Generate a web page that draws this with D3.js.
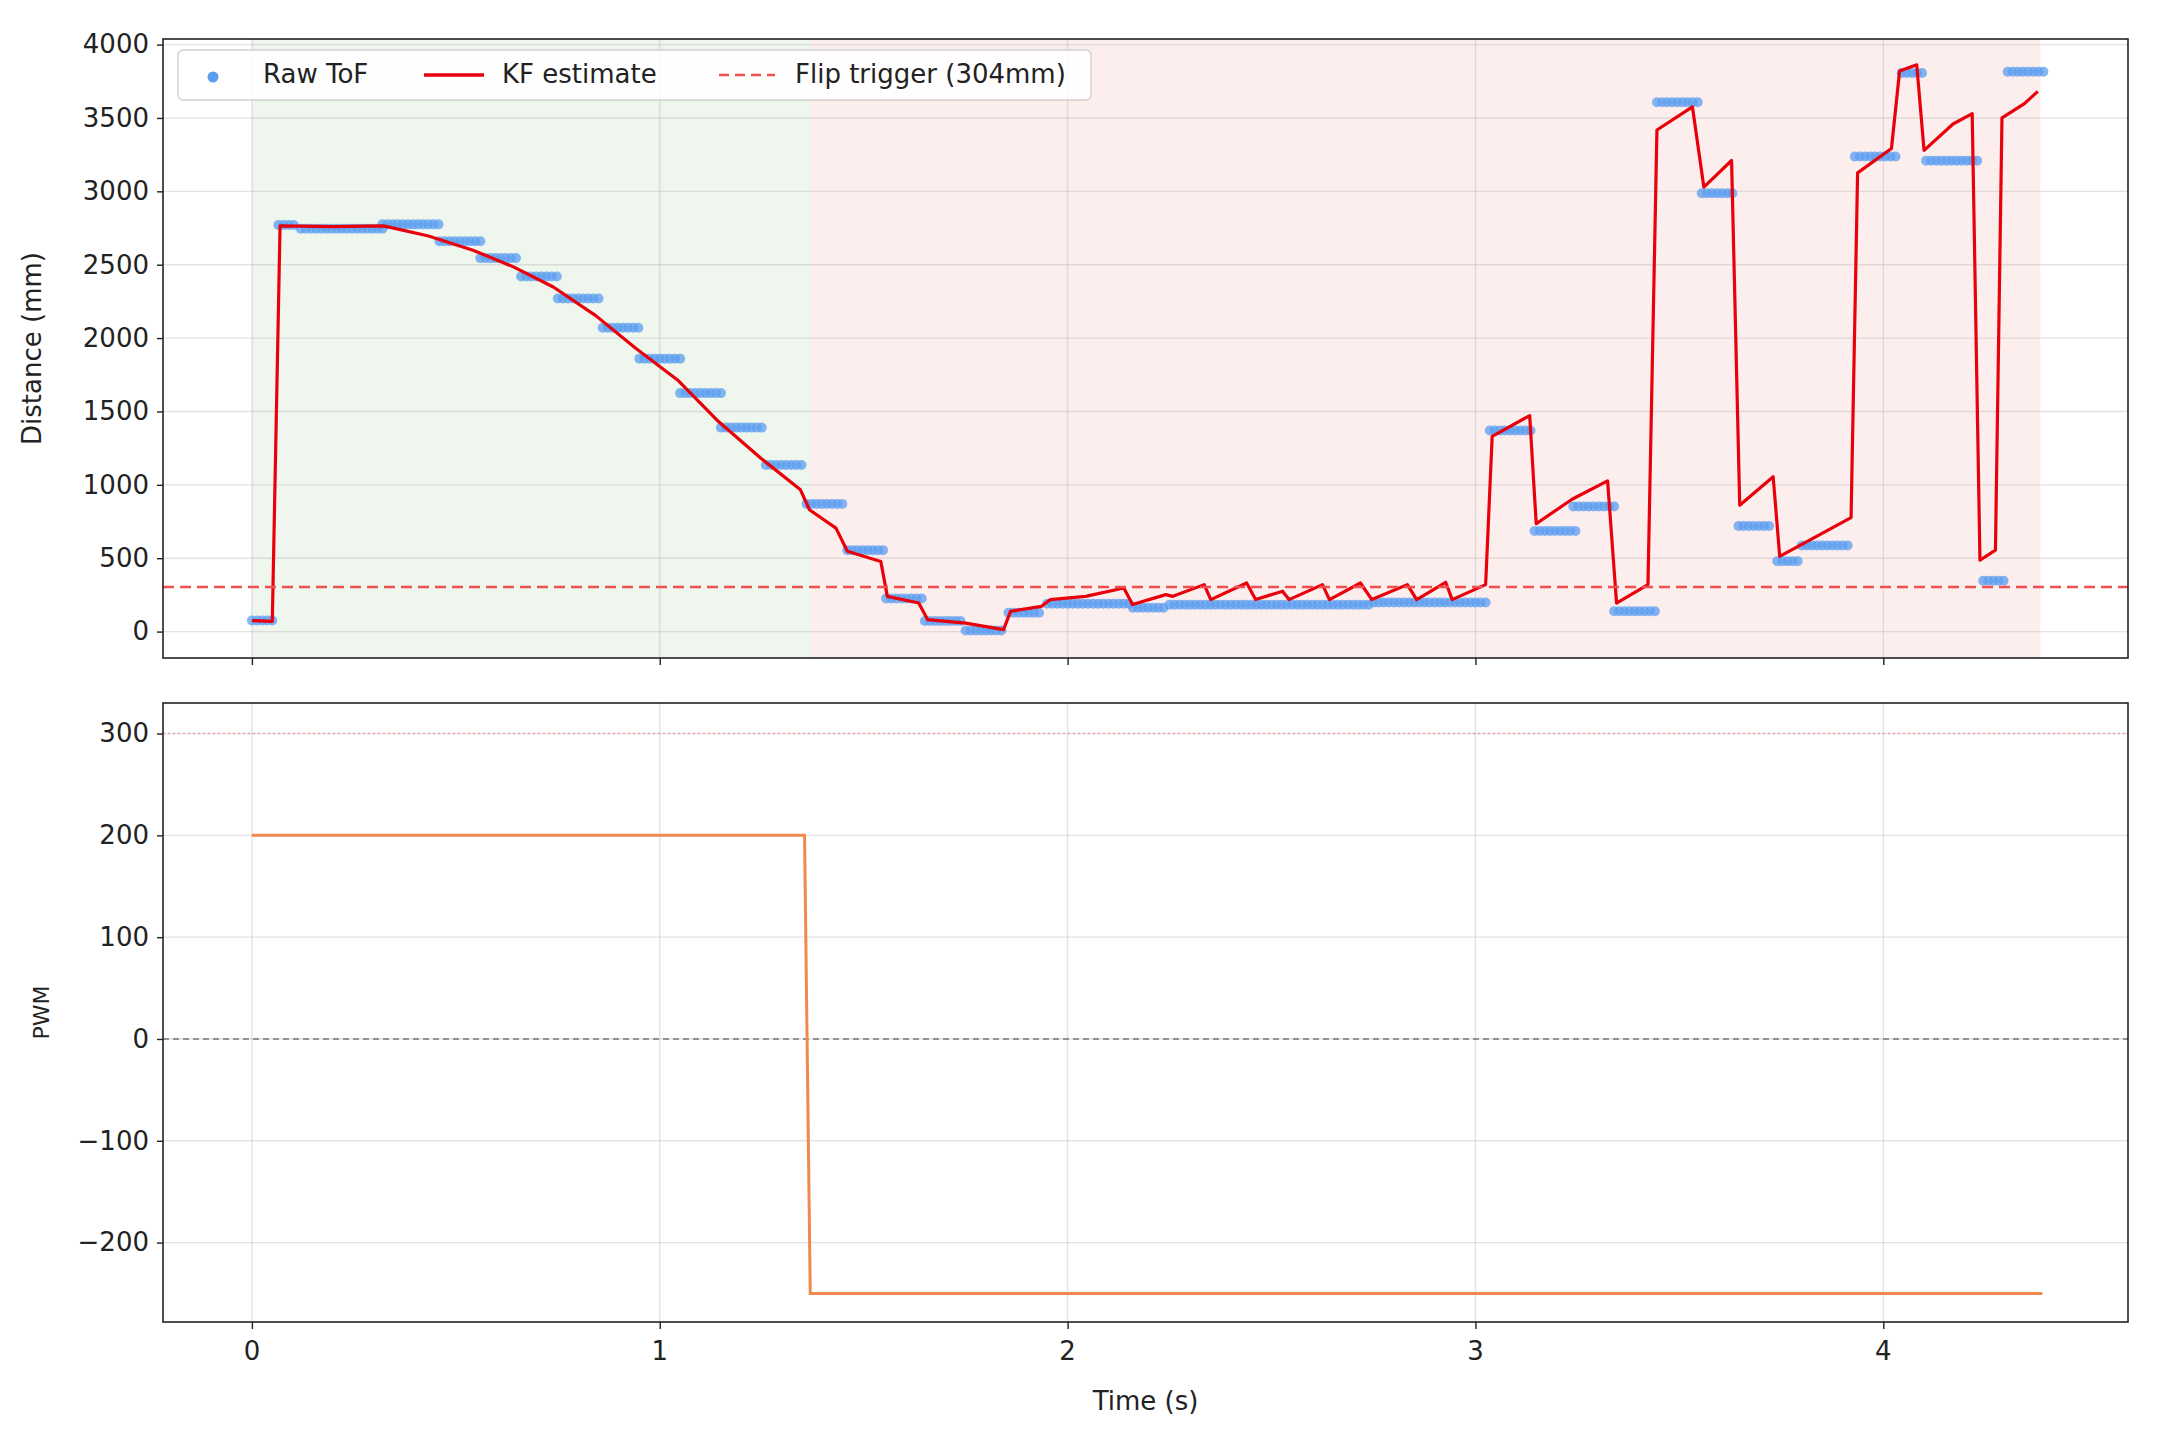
<!DOCTYPE html>
<html><head><meta charset="utf-8">
<script src="https://cdn.jsdelivr.net/npm/d3@7"></script>
<style>body{margin:0;background:#fff}svg{font-family:"DejaVu Sans",sans-serif}</style>
</head><body><svg id="c" width="2178" height="1448"></svg>
<script>
// Raw ToF plateaus: [tStart, tEnd, distance mm]
const rawSegments = [
 [0.0,0.06,75],[0.065,0.11,2770],[0.12,0.32,2745],[0.32,0.46,2775],[0.46,0.56,2660],
 [0.56,0.65,2545],[0.66,0.75,2420],[0.75,0.85,2270],[0.86,0.95,2070],[0.95,1.05,1860],
 [1.05,1.15,1625],[1.15,1.26,1390],[1.26,1.35,1135],[1.36,1.45,870],[1.46,1.55,555],
 [1.555,1.645,225],[1.65,1.74,72],[1.75,1.845,8],[1.855,1.94,128],[1.95,2.15,190],
 [2.16,2.24,162],[2.25,2.74,183],[2.75,3.03,198],[3.035,3.14,1370],[3.145,3.25,686],
 [3.24,3.34,853],[3.34,3.44,139],[3.445,3.55,3607],[3.555,3.64,2987],[3.645,3.73,720],
 [3.74,3.79,480],[3.8,3.92,586],[3.93,4.04,3237],[4.045,4.1,3806],[4.105,4.24,3209],
 [4.245,4.3,347],[4.305,4.4,3815]
];
const rawStep = 0.0125;
// Kalman filter estimate
const kfT = [0.0,0.05,0.069,0.2,0.323,0.433,0.542,0.64,0.739,0.843,0.941,1.046,1.144,1.248,1.345,1.367,1.432,1.46,1.542,1.558,1.635,1.657,1.75,1.843,1.86,1.936,1.958,2.044,2.138,2.159,2.241,2.258,2.335,2.351,2.439,2.461,2.527,2.543,2.625,2.642,2.718,2.746,2.833,2.856,2.927,2.943,3.025,3.041,3.133,3.149,3.237,3.324,3.346,3.423,3.445,3.532,3.56,3.628,3.648,3.73,3.746,3.921,3.937,4.02,4.04,4.082,4.1,4.171,4.218,4.237,4.275,4.291,4.346,4.379];
const kfV = [75,69,2765,2760,2765,2696,2599,2487,2348,2153,1931,1709,1431,1181,966,830,705,547,478,240,195,81,58,13,138,172,218,240,297,184,252,240,320,218,331,218,275,218,320,218,331,218,320,218,336,218,320,1330,1472,735,902,1027,194,320,3418,3576,3029,3210,861,1055,513,777,3126,3292,3820,3862,3279,3459,3529,486,555,3501,3598,3681];
const flipTrigger = 304;
const phases = [[0,1.369,"#eef6ee"],[1.369,4.385,"#fdeeee"]];
const pwmT = [0,1.355,1.369,4.39];
const pwmV = [200,200,-250,-250];
const xTicks = [0,1,2,3,4];
const yTicksTop = [0,500,1000,1500,2000,2500,3000,3500,4000];
const yTicksBot = [-200,-100,0,100,200,300];

const svg = d3.select("#c");
const L=163, R=2128, T1=39, B1=658, T2=703, B2=1322;
const x = d3.scaleLinear().domain([-0.218,4.6]).range([L,R]);
const y1 = d3.scaleLinear().domain([-180,4038]).range([B1,T1]);
const y2 = d3.scaleLinear().domain([-278,330]).range([B2,T2]);
const fs = 26;

function frame(y, T, B, ticks, fmt){
  svg.append("g").selectAll("line").data(xTicks).join("line")
    .attr("x1",d=>x(d)).attr("x2",d=>x(d)).attr("y1",T).attr("y2",B)
    .attr("stroke","#b0b0b0").attr("stroke-opacity",0.35).attr("stroke-width",1.4);
  svg.append("g").selectAll("line").data(ticks).join("line")
    .attr("x1",L).attr("x2",R).attr("y1",d=>y(d)).attr("y2",d=>y(d))
    .attr("stroke","#b0b0b0").attr("stroke-opacity",0.35).attr("stroke-width",1.4);
  const ay = svg.append("g").attr("transform",`translate(${L},0)`)
    .call(d3.axisLeft(y).tickValues(ticks).tickSize(6).tickPadding(8).tickFormat(fmt));
  ay.select(".domain").remove();
  ay.selectAll("text").attr("font-size",fs).attr("fill","#222").attr("font-family","DejaVu Sans");
  ay.selectAll("line").attr("stroke","#222").attr("stroke-width",1.4);
  const ax = svg.append("g").attr("transform",`translate(0,${B})`)
    .call(d3.axisBottom(x).tickValues(xTicks).tickSize(7).tickFormat(""));
  ax.select(".domain").remove();
  ax.selectAll("line").attr("stroke","#222").attr("stroke-width",1.4);
  return ax;
}
function border(T,B){
  svg.append("rect").attr("x",L).attr("y",T).attr("width",R-L).attr("height",B-T)
    .attr("fill","none").attr("stroke","#222").attr("stroke-width",1.6);
}
// ---- top panel
svg.append("g").selectAll("rect").data(phases).join("rect")
  .attr("x",d=>x(d[0])).attr("width",d=>x(d[1])-x(d[0]))
  .attr("y",T1).attr("height",B1-T1).attr("fill",d=>d[2]);
frame(y1,T1,B1,yTicksTop,d3.format("d"));
const raw=[];
rawSegments.forEach(([a,b,v])=>{for(let t=a;t<=b+1e-9;t+=rawStep) raw.push([t,v]);});
svg.append("g").selectAll("circle").data(raw).join("circle")
  .attr("cx",d=>x(d[0])).attr("cy",d=>y1(d[1])).attr("r",5)
  .attr("fill","#5b9ef0").attr("fill-opacity",0.75);
svg.append("path").datum(kfT.map((t,i)=>[t,kfV[i]]))
  .attr("d",d3.line().x(d=>x(d[0])).y(d=>y1(d[1])))
  .attr("fill","none").attr("stroke","#e8000b").attr("stroke-width",3.2).attr("stroke-linejoin","round");
svg.append("line").attr("x1",L).attr("x2",R).attr("y1",y1(flipTrigger)).attr("y2",y1(flipTrigger))
  .attr("stroke","#f05050").attr("stroke-width",2.6).attr("stroke-dasharray","11,6");
border(T1,B1);
svg.append("text").attr("transform",`translate(41,${(T1+B1)/2}) rotate(-90)`)
  .attr("text-anchor","middle").attr("font-size",fs).attr("fill","#222").text("Distance (mm)");
// legend
const lg = svg.append("g");
lg.append("rect").attr("x",178).attr("y",50).attr("width",913).attr("height",50).attr("rx",5)
  .attr("fill","#fff").attr("fill-opacity",0.85).attr("stroke","#d0d0d0").attr("stroke-width",1.4);
lg.append("circle").attr("cx",213).attr("cy",77).attr("r",5.5).attr("fill","#5b9ef0");
lg.append("text").attr("x",263).attr("y",83).attr("font-size",fs).attr("fill","#222").text("Raw ToF");
lg.append("line").attr("x1",424).attr("x2",484).attr("y1",75).attr("y2",75).attr("stroke","#e8000b").attr("stroke-width",3.5);
lg.append("text").attr("x",502).attr("y",83).attr("font-size",fs).attr("fill","#222").text("KF estimate");
lg.append("line").attr("x1",719).attr("x2",775).attr("y1",75).attr("y2",75).attr("stroke","#f05050").attr("stroke-width",2.6).attr("stroke-dasharray","10,6");
lg.append("text").attr("x",795).attr("y",83).attr("font-size",fs).attr("fill","#222").text("Flip trigger (304mm)");
// ---- bottom panel
const ax2 = frame(y2,T2,B2,yTicksBot,d=>d<0?"\u2212"+Math.abs(d):String(d));
svg.append("g").selectAll("text").data(xTicks).join("text")
  .attr("x",d=>x(d)).attr("y",B2+38).attr("text-anchor","middle").attr("font-size",fs).attr("fill","#222").text(d=>d);
svg.append("line").attr("x1",L).attr("x2",R).attr("y1",y2(0)).attr("y2",y2(0))
  .attr("stroke","#777").attr("stroke-width",1.4).attr("stroke-dasharray","6,4");
svg.append("line").attr("x1",L).attr("x2",R).attr("y1",y2(300)).attr("y2",y2(300))
  .attr("stroke","#f0a0a0").attr("stroke-width",1.4).attr("stroke-dasharray","2,3");
svg.append("path").datum(pwmT.map((t,i)=>[t,pwmV[i]]))
  .attr("d",d3.line().x(d=>x(d[0])).y(d=>y2(d[1])))
  .attr("fill","none").attr("stroke","#ef8a4c").attr("stroke-width",3);
border(T2,B2);
svg.append("text").attr("transform",`translate(49,${(T2+B2)/2}) rotate(-90)`)
  .attr("text-anchor","middle").attr("font-size",22).attr("fill","#222").text("PWM");
svg.append("text").attr("x",(L+R)/2).attr("y",1410).attr("text-anchor","middle")
  .attr("font-size",fs).attr("fill","#222").text("Time (s)");
</script></body></html>
